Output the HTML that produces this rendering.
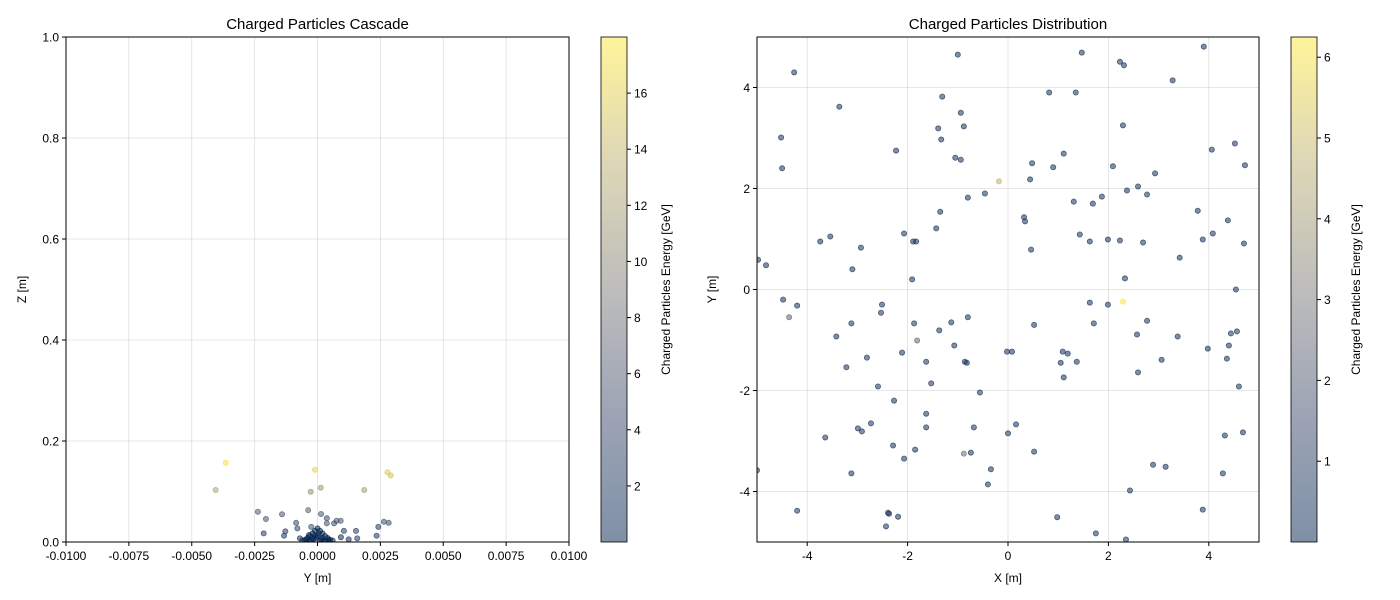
<!DOCTYPE html>
<html><head><meta charset="utf-8"><style>
body{margin:0;background:#fff;}
svg{display:block;font-family:"Liberation Sans",sans-serif;}
</style></head><body>
<svg id="fig" width="1400" height="600" xmlns="http://www.w3.org/2000/svg">
<defs>
<linearGradient id="cv" x1="0" y1="1" x2="0" y2="0">
<stop offset="0" stop-color="#00224e"/><stop offset="0.25" stop-color="#3b496c"/><stop offset="0.5" stop-color="#7c7b78"/><stop offset="0.75" stop-color="#bcaf6f"/><stop offset="1" stop-color="#fee838"/>
</linearGradient>
</defs>
</svg>
<script>
// Left: cascade (Y [m], Z [m], energy GeV)
const leftY=[-0.00365,-0.00405,-0.0001,0.00278,0.00291,0.00013,-0.00027,0.00186,-0.00237,-0.00205,-0.00141,-0.00037,0.00014,0.00037,0.00037,0.00076,0.00092,0.00066,-0.00085,-0.0008,-0.00025,-0.00128,-0.00133,-0.00214,0.00105,0.00153,0.00158,0.00242,0.00264,0.00283,0.00235,0.00093,0.00124,-0.0007,-0.00034,
0,-0.0001,0.0001,-0.0002,0.0002,-0.0003,0.0003,-0.0004,0.0004,-0.0005,0.0005,0,-0.00015,0.00015,-0.00025,0.00025,-0.00035,0.00035,0.00005,-0.00005,0.0001,-0.0001,0.0002,-0.0002,0.0006,-0.0006,0.00045,-0.00045];
const leftZ=[0.157,0.103,0.143,0.138,0.132,0.1075,0.0996,0.103,0.060,0.0455,0.055,0.063,0.0555,0.047,0.037,0.042,0.042,0.037,0.038,0.027,0.030,0.021,0.0125,0.017,0.022,0.022,0.0073,0.030,0.040,0.038,0.0125,0.0093,0.0053,0.0073,0.0139,
0.027,0.022,0.022,0.017,0.017,0.012,0.012,0.008,0.008,0.004,0.004,0.012,0.006,0.006,0.003,0.003,0.002,0.002,0.017,0.008,0.003,0.013,0.008,0.008,0.003,0.003,0.005,0.005];
const leftE=[17.5,12.5,16.5,15.5,15,11.5,11,12,6,5.5,5.5,6.5,5.5,5,5,5.5,5.5,4.5,4.5,4,5,3,2.5,3,3,3,2.5,3,5,5,2.5,1,1.5,1.5,2,
0.3,0.3,0.3,0.3,0.3,0.3,0.3,0.3,0.3,0.3,0.3,0.3,0.3,0.3,0.3,0.3,0.3,0.3,0.3,0.3,0.3,0.3,0.3,0.3,0.5,0.5,0.3,0.3];
const leftXTicks=["-0.0100","-0.0075","-0.0050","-0.0025","0.0000","0.0025","0.0050","0.0075","0.0100"];
const leftYTicks=["0.0","0.2","0.4","0.6","0.8","1.0"];
const leftCbTicks=[2,4,6,8,10,12,14,16];
// Right: distribution (X [m], Y [m], energy GeV)
const rightX=[3.90,1.47,-1.0,2.23,2.31,-4.26,3.28,-3.36,0.82,1.35,-1.31,-0.94,2.29,-1.39,-0.88,-1.33,-4.52,4.52,4.06,-2.23,1.11,-1.05,-0.94,0.48,2.09,4.72,0.90,-4.50,2.93,-0.18,0.44,2.59,2.37,2.77,-0.46,-0.80,1.87,1.31,1.69,3.78,-1.35,0.32,0.34,4.38,-1.43,-2.07,4.08,1.43,-3.54,3.88,1.99,2.23,1.63,-1.89,-1.83,2.69,-3.74,4.70,-2.93,0.46,3.42,-4.98,-4.82,-3.10,-1.91,2.33,4.54,2.29,-4.48,1.63,-2.51,1.99,-4.20,-4.36,-0.80,-2.53,2.77,-1.87,-3.12,-1.13,0.52,1.71,-1.37,4.56,4.44,2.57,3.38,-3.42,-1.81,-1.07,4.40,3.98,-0.02,0.08,-2.11,1.09,1.19,-2.81,3.06,4.36,1.37,-0.86,-0.82,-1.63,1.05,-3.22,2.59,1.11,-1.53,-2.59,4.60,-0.56,-2.27,-1.63,-2.73,0.16,-2.99,-2.91,-1.63,-0.68,0,4.68,4.32,-3.64,-2.29,-1.85,-0.88,-0.74,0.52,-2.07,2.89,3.14,-0.34,-3.12,4.28,-5.0,-0.40,2.43,-4.20,3.88,-2.39,-2.37,-2.19,0.98,-2.43,1.75,2.35];
const rightY=[4.81,4.69,4.65,4.51,4.44,4.30,4.14,3.62,3.90,3.90,3.82,3.50,3.25,3.19,3.23,2.97,3.01,2.89,2.77,2.75,2.69,2.61,2.57,2.50,2.44,2.46,2.42,2.40,2.30,2.14,2.18,2.04,1.96,1.88,1.90,1.82,1.84,1.74,1.70,1.56,1.54,1.43,1.35,1.37,1.21,1.11,1.11,1.09,1.05,0.99,0.99,0.97,0.95,0.95,0.95,0.93,0.95,0.91,0.83,0.79,0.63,0.59,0.48,0.40,0.20,0.22,0.0,-0.24,-0.20,-0.26,-0.30,-0.30,-0.32,-0.55,-0.55,-0.46,-0.62,-0.67,-0.67,-0.65,-0.70,-0.67,-0.81,-0.83,-0.87,-0.89,-0.93,-0.93,-1.01,-1.11,-1.11,-1.17,-1.23,-1.23,-1.25,-1.23,-1.27,-1.35,-1.39,-1.37,-1.43,-1.43,-1.45,-1.43,-1.45,-1.54,-1.64,-1.74,-1.86,-1.92,-1.92,-2.04,-2.20,-2.46,-2.65,-2.67,-2.75,-2.81,-2.73,-2.73,-2.85,-2.83,-2.89,-2.93,-3.09,-3.17,-3.25,-3.23,-3.21,-3.35,-3.47,-3.51,-3.56,-3.64,-3.64,-3.58,-3.86,-3.98,-4.38,-4.36,-4.42,-4.44,-4.50,-4.51,-4.69,-4.83,-4.95];
const rightE=rightX.map(()=>0.6);
rightE[29]=4.8; rightE[67]=6.2; rightE[73]=2.5; rightE[88]=2.5; rightE[126]=2.7;
const rightXTicks=[-4,-2,0,2,4];
const rightYTicks=[-4,-2,0,2,4];
const rightCbTicks=[1,2,3,4,5,6];

const NS="http://www.w3.org/2000/svg";
const svg=document.getElementById('fig');
function mk(tag,attrs,parent){const e=document.createElementNS(NS,tag);for(const k in attrs)e.setAttribute(k,attrs[k]);(parent||svg).appendChild(e);return e;}
function txt(s,attrs){const e=mk('text',attrs);e.textContent=s;return e;}
const stops=[[0,[0,34,78]],[0.25,[59,73,108]],[0.5,[124,123,120]],[0.75,[188,175,111]],[1,[254,232,56]]];
function cmap(t){t=Math.max(0,Math.min(1,t));for(let i=1;i<stops.length;i++){if(t<=stops[i][0]){const a=stops[i-1],b=stops[i];const f=(t-a[0])/(b[0]-a[0]);return 'rgb('+a[1].map((v,j)=>Math.round(v+(b[1][j]-v)*f)).join(',')+')';}}return 'rgb(254,232,56)';}

function panel(o){
  const L=o.L,R=o.R,T=37,B=542;
  const sx=v=>L+(v-o.x0)/(o.x1-o.x0)*(R-L);
  const sy=v=>B-(v-o.y0)/(o.y1-o.y0)*(B-T);
  const g=mk('g',{});
  
  
  o.xt.forEach(v=>{const x=sx(+v);const l=mk('line',{x1:x,x2:x,y1:T,y2:B,stroke:'#b0b0b0','stroke-opacity':0.4,'stroke-width':0.8},g);});
  o.yt.forEach(v=>{const y=sy(+v);const l=mk('line',{x1:L,x2:R,y1:y,y2:y,stroke:'#b0b0b0','stroke-opacity':0.4,'stroke-width':0.8},g);});
  const cp=mk('clipPath',{id:'clip'+o.name},g);mk('rect',{x:L,y:T,width:R-L,height:B-T},cp);
  const pg=mk('g',{'clip-path':'url(#clip'+o.name+')'},g);
  for(let i=0;i<o.X.length;i++){
    const c=mk('circle',{cx:sx(o.X[i]),cy:sy(o.Y[i]),r:2.6,fill:cmap(o.E[i]/o.emax),'fill-opacity':0.55,stroke:cmap(o.E[i]/o.emax),'stroke-opacity':0.7,'stroke-width':0.8},pg);
    
    
  }
  const fr=mk('rect',{x:L,y:T,width:R-L,height:B-T,fill:'none',stroke:'#000','stroke-width':1},g);
  
  o.xt.forEach(v=>{const x=sx(+v);mk('line',{x1:x,x2:x,y1:B,y2:B+4,stroke:'#000'});const t=txt(String(v),{x:x,y:B+18,'font-size':12,'text-anchor':'middle'});});
  o.yt.forEach(v=>{const y=sy(+v);mk('line',{x1:L-4,x2:L,y1:y,y2:y,stroke:'#000'});const t=txt(String(v),{x:L-7,y:y+4.5,'font-size':12,'text-anchor':'end'});});
  let t=txt(o.title,{x:(L+R)/2,y:29,'font-size':15,'text-anchor':'middle'});
  t=txt(o.xl,{x:(L+R)/2,y:582,'font-size':12,'text-anchor':'middle'});
  t=txt(o.yl,{x:0,y:0,'font-size':12,'text-anchor':'middle',transform:'translate('+o.ylx+','+((T+B)/2)+') rotate(-90)'});
  const cb=mk('rect',{x:o.cb,y:T,width:26,height:B-T,fill:'url(#cv)','fill-opacity':0.5,stroke:'#000','stroke-width':0.8});
  
  o.ct.forEach(v=>{const y=B-v/o.emax*(B-T);mk('line',{x1:o.cb+26,x2:o.cb+30,y1:y,y2:y,stroke:'#000'});const tt=txt(String(v),{x:o.cb+33,y:y+4.5,'font-size':12});});
  t=txt('Charged Particles Energy [GeV]',{x:0,y:0,'font-size':12,'text-anchor':'middle',transform:'translate('+(o.cb+69)+','+((T+B)/2)+') rotate(-90)'});
}
panel({name:'cascade',L:66,R:569,x0:-0.01,x1:0.01,y0:0,y1:1,X:leftY,Y:leftZ,E:leftE,emax:18,xt:leftXTicks,yt:leftYTicks,ct:leftCbTicks,title:'Charged Particles Cascade',xl:'Y [m]',yl:'Z [m]',ylx:26,cb:601});
panel({name:'distribution',L:757,R:1259,x0:-5,x1:5,y0:-5,y1:5,X:rightX,Y:rightY,E:rightE,emax:6.25,xt:rightXTicks,yt:rightYTicks,ct:rightCbTicks,title:'Charged Particles Distribution',xl:'X [m]',yl:'Y [m]',ylx:716,cb:1291});
</script>
</body></html>
